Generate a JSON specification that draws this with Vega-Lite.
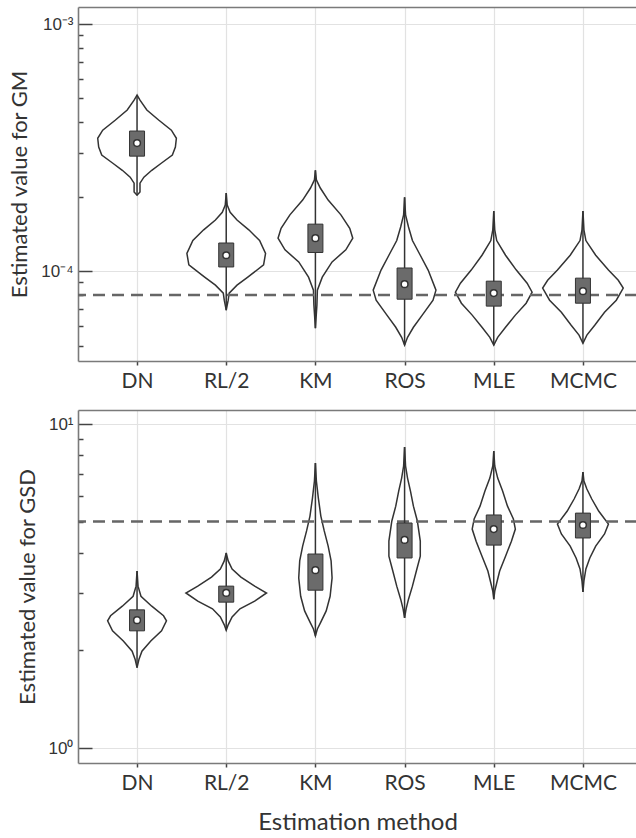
{
  "$schema": "https://vega.github.io/schema/vega-lite/v6.json",
  "padding": {"left": 8, "top": 7, "right": 0, "bottom": 2},
  "spacing": 19,
  "config": {
    "view": {"stroke": null},
    "font": "Lato",
    "axis": {
      "domainColor": "#7a7a7a",
      "domainWidth": 1.6,
      "tickColor": "#444444",
      "tickWidth": 1.5,
      "labelColor": "#333333",
      "titleColor": "#333333",
      "titleFontWeight": "normal",
      "gridColor": "#e2e2e2",
      "gridWidth": 1.2,
      "labelFlush": false,
      "labelOverlap": false,
      "labelBound": false
    }
  },
  "datasets": {
    "shapes": [
      {"stat": "GM", "method": "DN", "idx": 1, "value": 5.16e-4, "half": 0},
      {"stat": "GM", "method": "DN", "idx": 1, "value": 4.92e-4, "half": 0.033},
      {"stat": "GM", "method": "DN", "idx": 1, "value": 4.49e-4, "half": 0.110},
      {"stat": "GM", "method": "DN", "idx": 1, "value": 4.09e-4, "half": 0.242},
      {"stat": "GM", "method": "DN", "idx": 1, "value": 3.72e-4, "half": 0.385},
      {"stat": "GM", "method": "DN", "idx": 1, "value": 3.45e-4, "half": 0.441},
      {"stat": "GM", "method": "DN", "idx": 1, "value": 3.18e-4, "half": 0.430},
      {"stat": "GM", "method": "DN", "idx": 1, "value": 2.95e-4, "half": 0.396},
      {"stat": "GM", "method": "DN", "idx": 1, "value": 2.74e-4, "half": 0.275},
      {"stat": "GM", "method": "DN", "idx": 1, "value": 2.56e-4, "half": 0.165},
      {"stat": "GM", "method": "DN", "idx": 1, "value": 2.40e-4, "half": 0.077},
      {"stat": "GM", "method": "DN", "idx": 1, "value": 2.27e-4, "half": 0.033},
      {"stat": "GM", "method": "DN", "idx": 1, "value": 2.09e-4, "half": 0.033},
      {"stat": "GM", "method": "DN", "idx": 1, "value": 2.03e-4, "half": 0},

      {"stat": "GM", "method": "RL/2", "idx": 2, "value": 2.07e-4, "half": 0},
      {"stat": "GM", "method": "RL/2", "idx": 2, "value": 1.85e-4, "half": 0.011},
      {"stat": "GM", "method": "RL/2", "idx": 2, "value": 1.73e-4, "half": 0.044},
      {"stat": "GM", "method": "RL/2", "idx": 2, "value": 1.61e-4, "half": 0.121},
      {"stat": "GM", "method": "RL/2", "idx": 2, "value": 1.47e-4, "half": 0.253},
      {"stat": "GM", "method": "RL/2", "idx": 2, "value": 1.33e-4, "half": 0.374},
      {"stat": "GM", "method": "RL/2", "idx": 2, "value": 1.18e-4, "half": 0.441},
      {"stat": "GM", "method": "RL/2", "idx": 2, "value": 1.06e-4, "half": 0.419},
      {"stat": "GM", "method": "RL/2", "idx": 2, "value": 9.46e-5, "half": 0.242},
      {"stat": "GM", "method": "RL/2", "idx": 2, "value": 8.78e-5, "half": 0.121},
      {"stat": "GM", "method": "RL/2", "idx": 2, "value": 8.15e-5, "half": 0.033},
      {"stat": "GM", "method": "RL/2", "idx": 2, "value": 7.63e-5, "half": 0.022},
      {"stat": "GM", "method": "RL/2", "idx": 2, "value": 6.95e-5, "half": 0},

      {"stat": "GM", "method": "KM", "idx": 3, "value": 2.56e-4, "half": 0},
      {"stat": "GM", "method": "KM", "idx": 3, "value": 2.34e-4, "half": 0.011},
      {"stat": "GM", "method": "KM", "idx": 3, "value": 2.17e-4, "half": 0.055},
      {"stat": "GM", "method": "KM", "idx": 3, "value": 1.94e-4, "half": 0.143},
      {"stat": "GM", "method": "KM", "idx": 3, "value": 1.69e-4, "half": 0.286},
      {"stat": "GM", "method": "KM", "idx": 3, "value": 1.49e-4, "half": 0.385},
      {"stat": "GM", "method": "KM", "idx": 3, "value": 1.36e-4, "half": 0.419},
      {"stat": "GM", "method": "KM", "idx": 3, "value": 1.22e-4, "half": 0.341},
      {"stat": "GM", "method": "KM", "idx": 3, "value": 1.09e-4, "half": 0.187},
      {"stat": "GM", "method": "KM", "idx": 3, "value": 9.46e-5, "half": 0.077},
      {"stat": "GM", "method": "KM", "idx": 3, "value": 8.38e-5, "half": 0.022},
      {"stat": "GM", "method": "KM", "idx": 3, "value": 7.29e-5, "half": 0.017},
      {"stat": "GM", "method": "KM", "idx": 3, "value": 5.88e-5, "half": 0},

      {"stat": "GM", "method": "ROS", "idx": 4, "value": 1.99e-4, "half": 0},
      {"stat": "GM", "method": "ROS", "idx": 4, "value": 1.69e-4, "half": 0.011},
      {"stat": "GM", "method": "ROS", "idx": 4, "value": 1.51e-4, "half": 0.044},
      {"stat": "GM", "method": "ROS", "idx": 4, "value": 1.33e-4, "half": 0.088},
      {"stat": "GM", "method": "ROS", "idx": 4, "value": 1.16e-4, "half": 0.176},
      {"stat": "GM", "method": "ROS", "idx": 4, "value": 1.01e-4, "half": 0.264},
      {"stat": "GM", "method": "ROS", "idx": 4, "value": 8.38e-5, "half": 0.352},
      {"stat": "GM", "method": "ROS", "idx": 4, "value": 7.63e-5, "half": 0.319},
      {"stat": "GM", "method": "ROS", "idx": 4, "value": 6.64e-5, "half": 0.198},
      {"stat": "GM", "method": "ROS", "idx": 4, "value": 5.93e-5, "half": 0.099},
      {"stat": "GM", "method": "ROS", "idx": 4, "value": 5.40e-5, "half": 0.033},
      {"stat": "GM", "method": "ROS", "idx": 4, "value": 5.02e-5, "half": 0},

      {"stat": "GM", "method": "MLE", "idx": 5, "value": 1.75e-4, "half": 0},
      {"stat": "GM", "method": "MLE", "idx": 5, "value": 1.47e-4, "half": 0.011},
      {"stat": "GM", "method": "MLE", "idx": 5, "value": 1.33e-4, "half": 0.033},
      {"stat": "GM", "method": "MLE", "idx": 5, "value": 1.16e-4, "half": 0.132},
      {"stat": "GM", "method": "MLE", "idx": 5, "value": 1.01e-4, "half": 0.253},
      {"stat": "GM", "method": "MLE", "idx": 5, "value": 8.94e-5, "half": 0.374},
      {"stat": "GM", "method": "MLE", "idx": 5, "value": 8.22e-5, "half": 0.430},
      {"stat": "GM", "method": "MLE", "idx": 5, "value": 7.42e-5, "half": 0.363},
      {"stat": "GM", "method": "MLE", "idx": 5, "value": 6.64e-5, "half": 0.242},
      {"stat": "GM", "method": "MLE", "idx": 5, "value": 5.93e-5, "half": 0.132},
      {"stat": "GM", "method": "MLE", "idx": 5, "value": 5.40e-5, "half": 0.044},
      {"stat": "GM", "method": "MLE", "idx": 5, "value": 5.02e-5, "half": 0},

      {"stat": "GM", "method": "MCMC", "idx": 6, "value": 1.75e-4, "half": 0},
      {"stat": "GM", "method": "MCMC", "idx": 6, "value": 1.47e-4, "half": 0.011},
      {"stat": "GM", "method": "MCMC", "idx": 6, "value": 1.33e-4, "half": 0.033},
      {"stat": "GM", "method": "MCMC", "idx": 6, "value": 1.16e-4, "half": 0.143},
      {"stat": "GM", "method": "MCMC", "idx": 6, "value": 1.01e-4, "half": 0.286},
      {"stat": "GM", "method": "MCMC", "idx": 6, "value": 9.19e-5, "half": 0.396},
      {"stat": "GM", "method": "MCMC", "idx": 6, "value": 8.54e-5, "half": 0.452},
      {"stat": "GM", "method": "MCMC", "idx": 6, "value": 7.63e-5, "half": 0.374},
      {"stat": "GM", "method": "MCMC", "idx": 6, "value": 6.82e-5, "half": 0.242},
      {"stat": "GM", "method": "MCMC", "idx": 6, "value": 6.04e-5, "half": 0.132},
      {"stat": "GM", "method": "MCMC", "idx": 6, "value": 5.51e-5, "half": 0.044},
      {"stat": "GM", "method": "MCMC", "idx": 6, "value": 5.11e-5, "half": 0},

      {"stat": "GSD", "method": "DN", "idx": 1, "value": 3.52, "half": 0},
      {"stat": "GSD", "method": "DN", "idx": 1, "value": 3.16, "half": 0.011},
      {"stat": "GSD", "method": "DN", "idx": 1, "value": 2.94, "half": 0.044},
      {"stat": "GSD", "method": "DN", "idx": 1, "value": 2.74, "half": 0.165},
      {"stat": "GSD", "method": "DN", "idx": 1, "value": 2.56, "half": 0.297},
      {"stat": "GSD", "method": "DN", "idx": 1, "value": 2.47, "half": 0.330},
      {"stat": "GSD", "method": "DN", "idx": 1, "value": 2.30, "half": 0.275},
      {"stat": "GSD", "method": "DN", "idx": 1, "value": 2.14, "half": 0.154},
      {"stat": "GSD", "method": "DN", "idx": 1, "value": 1.99, "half": 0.055},
      {"stat": "GSD", "method": "DN", "idx": 1, "value": 1.88, "half": 0.022},
      {"stat": "GSD", "method": "DN", "idx": 1, "value": 1.77, "half": 0},

      {"stat": "GSD", "method": "RL/2", "idx": 2, "value": 4.00, "half": 0},
      {"stat": "GSD", "method": "RL/2", "idx": 2, "value": 3.78, "half": 0.022},
      {"stat": "GSD", "method": "RL/2", "idx": 2, "value": 3.57, "half": 0.066},
      {"stat": "GSD", "method": "RL/2", "idx": 2, "value": 3.37, "half": 0.165},
      {"stat": "GSD", "method": "RL/2", "idx": 2, "value": 3.16, "half": 0.319},
      {"stat": "GSD", "method": "RL/2", "idx": 2, "value": 3.01, "half": 0.452},
      {"stat": "GSD", "method": "RL/2", "idx": 2, "value": 2.84, "half": 0.319},
      {"stat": "GSD", "method": "RL/2", "idx": 2, "value": 2.69, "half": 0.154},
      {"stat": "GSD", "method": "RL/2", "idx": 2, "value": 2.54, "half": 0.066},
      {"stat": "GSD", "method": "RL/2", "idx": 2, "value": 2.40, "half": 0.022},
      {"stat": "GSD", "method": "RL/2", "idx": 2, "value": 2.31, "half": 0},

      {"stat": "GSD", "method": "KM", "idx": 3, "value": 7.58, "half": 0},
      {"stat": "GSD", "method": "KM", "idx": 3, "value": 6.67, "half": 0.011},
      {"stat": "GSD", "method": "KM", "idx": 3, "value": 5.91, "half": 0.033},
      {"stat": "GSD", "method": "KM", "idx": 3, "value": 5.20, "half": 0.061},
      {"stat": "GSD", "method": "KM", "idx": 3, "value": 4.68, "half": 0.099},
      {"stat": "GSD", "method": "KM", "idx": 3, "value": 4.20, "half": 0.143},
      {"stat": "GSD", "method": "KM", "idx": 3, "value": 3.78, "half": 0.176},
      {"stat": "GSD", "method": "KM", "idx": 3, "value": 3.35, "half": 0.187},
      {"stat": "GSD", "method": "KM", "idx": 3, "value": 2.94, "half": 0.165},
      {"stat": "GSD", "method": "KM", "idx": 3, "value": 2.65, "half": 0.121},
      {"stat": "GSD", "method": "KM", "idx": 3, "value": 2.43, "half": 0.055},
      {"stat": "GSD", "method": "KM", "idx": 3, "value": 2.33, "half": 0.022},
      {"stat": "GSD", "method": "KM", "idx": 3, "value": 2.22, "half": 0},

      {"stat": "GSD", "method": "ROS", "idx": 4, "value": 8.49, "half": 0},
      {"stat": "GSD", "method": "ROS", "idx": 4, "value": 7.42, "half": 0.011},
      {"stat": "GSD", "method": "ROS", "idx": 4, "value": 6.81, "half": 0.033},
      {"stat": "GSD", "method": "ROS", "idx": 4, "value": 6.21, "half": 0.066},
      {"stat": "GSD", "method": "ROS", "idx": 4, "value": 5.58, "half": 0.099},
      {"stat": "GSD", "method": "ROS", "idx": 4, "value": 5.02, "half": 0.143},
      {"stat": "GSD", "method": "ROS", "idx": 4, "value": 4.35, "half": 0.176},
      {"stat": "GSD", "method": "ROS", "idx": 4, "value": 3.91, "half": 0.176},
      {"stat": "GSD", "method": "ROS", "idx": 4, "value": 3.52, "half": 0.132},
      {"stat": "GSD", "method": "ROS", "idx": 4, "value": 3.16, "half": 0.088},
      {"stat": "GSD", "method": "ROS", "idx": 4, "value": 2.88, "half": 0.044},
      {"stat": "GSD", "method": "ROS", "idx": 4, "value": 2.69, "half": 0.017},
      {"stat": "GSD", "method": "ROS", "idx": 4, "value": 2.52, "half": 0},

      {"stat": "GSD", "method": "MLE", "idx": 5, "value": 8.25, "half": 0},
      {"stat": "GSD", "method": "MLE", "idx": 5, "value": 7.42, "half": 0.011},
      {"stat": "GSD", "method": "MLE", "idx": 5, "value": 6.81, "half": 0.044},
      {"stat": "GSD", "method": "MLE", "idx": 5, "value": 6.21, "half": 0.099},
      {"stat": "GSD", "method": "MLE", "idx": 5, "value": 5.58, "half": 0.154},
      {"stat": "GSD", "method": "MLE", "idx": 5, "value": 5.09, "half": 0.220},
      {"stat": "GSD", "method": "MLE", "idx": 5, "value": 4.74, "half": 0.242},
      {"stat": "GSD", "method": "MLE", "idx": 5, "value": 4.35, "half": 0.198},
      {"stat": "GSD", "method": "MLE", "idx": 5, "value": 3.91, "half": 0.132},
      {"stat": "GSD", "method": "MLE", "idx": 5, "value": 3.52, "half": 0.066},
      {"stat": "GSD", "method": "MLE", "idx": 5, "value": 3.23, "half": 0.033},
      {"stat": "GSD", "method": "MLE", "idx": 5, "value": 3.05, "half": 0.011},
      {"stat": "GSD", "method": "MLE", "idx": 5, "value": 2.88, "half": 0},

      {"stat": "GSD", "method": "MCMC", "idx": 6, "value": 7.11, "half": 0},
      {"stat": "GSD", "method": "MCMC", "idx": 6, "value": 6.67, "half": 0.011},
      {"stat": "GSD", "method": "MCMC", "idx": 6, "value": 6.30, "half": 0.044},
      {"stat": "GSD", "method": "MCMC", "idx": 6, "value": 5.87, "half": 0.099},
      {"stat": "GSD", "method": "MCMC", "idx": 6, "value": 5.39, "half": 0.176},
      {"stat": "GSD", "method": "MCMC", "idx": 6, "value": 4.91, "half": 0.286},
      {"stat": "GSD", "method": "MCMC", "idx": 6, "value": 4.58, "half": 0.242},
      {"stat": "GSD", "method": "MCMC", "idx": 6, "value": 4.20, "half": 0.143},
      {"stat": "GSD", "method": "MCMC", "idx": 6, "value": 3.86, "half": 0.077},
      {"stat": "GSD", "method": "MCMC", "idx": 6, "value": 3.57, "half": 0.033},
      {"stat": "GSD", "method": "MCMC", "idx": 6, "value": 3.28, "half": 0.011},
      {"stat": "GSD", "method": "MCMC", "idx": 6, "value": 3.03, "half": 0}
    ],
    "stats": [
      {"stat": "GM", "method": "DN", "idx": 1, "min": 2.03e-4, "q1": 2.92e-4, "median": 3.30e-4, "q3": 3.69e-4, "max": 5.16e-4},
      {"stat": "GM", "method": "RL/2", "idx": 2, "min": 6.95e-5, "q1": 1.04e-4, "median": 1.16e-4, "q3": 1.30e-4, "max": 2.07e-4},
      {"stat": "GM", "method": "KM", "idx": 3, "min": 5.88e-5, "q1": 1.19e-4, "median": 1.36e-4, "q3": 1.55e-4, "max": 2.56e-4},
      {"stat": "GM", "method": "ROS", "idx": 4, "min": 5.02e-5, "q1": 7.70e-5, "median": 8.86e-5, "q3": 1.03e-4, "max": 1.99e-4},
      {"stat": "GM", "method": "MLE", "idx": 5, "min": 5.02e-5, "q1": 7.22e-5, "median": 8.15e-5, "q3": 9.11e-5, "max": 1.75e-4},
      {"stat": "GM", "method": "MCMC", "idx": 6, "min": 5.11e-5, "q1": 7.42e-5, "median": 8.30e-5, "q3": 9.37e-5, "max": 1.75e-4},
      {"stat": "GSD", "method": "DN", "idx": 1, "min": 1.77, "q1": 2.30, "median": 2.48, "q3": 2.67, "max": 3.52},
      {"stat": "GSD", "method": "RL/2", "idx": 2, "min": 2.31, "q1": 2.82, "median": 3.01, "q3": 3.16, "max": 4.00},
      {"stat": "GSD", "method": "KM", "idx": 3, "min": 2.22, "q1": 3.07, "median": 3.54, "q3": 3.97, "max": 7.58},
      {"stat": "GSD", "method": "ROS", "idx": 4, "min": 2.52, "q1": 3.86, "median": 4.39, "q3": 4.95, "max": 8.49},
      {"stat": "GSD", "method": "MLE", "idx": 5, "min": 2.88, "q1": 4.23, "median": 4.74, "q3": 5.24, "max": 8.25},
      {"stat": "GSD", "method": "MCMC", "idx": 6, "min": 3.03, "q1": 4.45, "median": 4.88, "q3": 5.31, "max": 7.11}
    ],
    "truth": [
      {"stat": "GM", "true_value": 8e-5},
      {"stat": "GSD", "true_value": 5}
    ]
  },
  "vconcat": [
    {
      "width": 559,
      "height": 354,
      "layer": [
        {
          "data": {"name": "shapes"},
          "transform": [
            {"filter": "datum.stat === 'GM'"},
            {"calculate": "datum.idx - datum.half", "as": "x_left"},
            {"calculate": "datum.idx + datum.half", "as": "x_right"}
          ],
          "mark": {"type": "area", "orient": "horizontal", "fill": "white", "stroke": "#333333", "strokeWidth": 1.5},
          "encoding": {
            "detail": {"field": "method"},
            "y": {
              "field": "value", "type": "quantitative",
              "scale": {"type": "log", "domain": [4.33e-5, 1.172e-3], "nice": false},
              "axis": {
                "values": [0.001172, 0.001, 0.0009, 0.0008, 0.0007, 0.0006, 0.0005, 0.0004, 0.0003, 0.0002, 0.0001, 0.00009, 0.00008, 0.00007, 0.00006, 0.00005],
                "tickSize": -14,
                "tickDash": {"condition": {"test": "datum.value == 0.001 || datum.value == 0.0001", "value": [14, 0]}, "value": [5, 40]},
                "tickOpacity": {"condition": {"test": "datum.value == 0.001172", "value": 0}, "value": 1},
                "gridOpacity": {"condition": {"test": "datum.value == 0.001 || datum.value == 0.0001 || datum.value == 0.001172", "value": 1}, "value": 0},
                "gridColor": {"condition": {"test": "datum.value == 0.001172", "value": "#7a7a7a"}, "value": "#e2e2e2"},
                "gridWidth": {"condition": {"test": "datum.value == 0.001172", "value": 1.6}, "value": 1.2},
                "labelFontSize": {"condition": {"test": "datum.value == 0.001172", "value": 0}, "value": 17},
                "labelExpr": "datum.value == 0.001 ? '10⁻³' : (datum.value == 0.0001 ? '10⁻⁴' : '')",
                "labelPadding": 19,
                "labelFont": "Liberation Sans",
                "title": "Estimated value for GM",
                "titleFontSize": 22,
                "titlePadding": 9
              }
            },
            "x": {
              "field": "x_left", "type": "quantitative",
              "scale": {"domain": [0.394, 6.55], "nice": false, "zero": false},
              "axis": {
                "values": [1, 2, 3, 4, 5, 6],
                "labelExpr": "['DN', 'RL/2', 'KM', 'ROS', 'MLE', 'MCMC'][datum.value - 1]",
                "tickSize": 4,
                "labelPadding": 5,
                "labelFontSize": 21,
                "title": null
              }
            },
            "x2": {"field": "x_right"}
          }
        },
        {
          "data": {"name": "truth"},
          "transform": [{"filter": "datum.stat === 'GM'"}],
          "mark": {"type": "rule", "stroke": "#666666", "strokeWidth": 2.5, "strokeDash": [12, 7]},
          "encoding": {
            "y": {"field": "true_value", "type": "quantitative"}
          }
        },
        {
          "data": {"name": "stats"},
          "transform": [{"filter": "datum.stat === 'GM'"}],
          "mark": {"type": "rule", "stroke": "#333333", "strokeWidth": 1.5},
          "encoding": {
            "x": {"field": "idx", "type": "quantitative"},
            "y": {"field": "min", "type": "quantitative"},
            "y2": {"field": "max"}
          }
        },
        {
          "data": {"name": "stats"},
          "transform": [{"filter": "datum.stat === 'GM'"}],
          "mark": {"type": "bar", "width": 15, "fill": "#6b6b6b", "stroke": "#333333", "strokeWidth": 1},
          "encoding": {
            "x": {"field": "idx", "type": "quantitative"},
            "y": {"field": "q1", "type": "quantitative"},
            "y2": {"field": "q3"}
          }
        },
        {
          "data": {"name": "stats"},
          "transform": [{"filter": "datum.stat === 'GM'"}],
          "mark": {"type": "point", "filled": true, "fill": "white", "stroke": "#333333", "strokeWidth": 1.5, "size": 45, "opacity": 1},
          "encoding": {
            "x": {"field": "idx", "type": "quantitative"},
            "y": {"field": "median", "type": "quantitative"}
          }
        }
      ]
    },
    {
      "width": 559,
      "height": 353,
      "layer": [
        {
          "data": {"name": "shapes"},
          "transform": [
            {"filter": "datum.stat === 'GSD'"},
            {"calculate": "datum.idx - datum.half", "as": "x_left"},
            {"calculate": "datum.idx + datum.half", "as": "x_right"}
          ],
          "mark": {"type": "area", "orient": "horizontal", "fill": "white", "stroke": "#333333", "strokeWidth": 1.5},
          "encoding": {
            "detail": {"field": "method"},
            "y": {
              "field": "value", "type": "quantitative",
              "scale": {"type": "log", "domain": [0.899, 11.05], "nice": false},
              "axis": {
                "values": [11.05, 10, 9, 8, 7, 6, 5, 4, 3, 2, 1],
                "tickSize": -14,
                "tickDash": {"condition": {"test": "datum.value == 10 || datum.value == 1", "value": [14, 0]}, "value": [5, 40]},
                "tickOpacity": {"condition": {"test": "datum.value == 11.05", "value": 0}, "value": 1},
                "gridOpacity": {"condition": {"test": "datum.value == 10 || datum.value == 1 || datum.value == 11.05", "value": 1}, "value": 0},
                "gridColor": {"condition": {"test": "datum.value == 11.05", "value": "#7a7a7a"}, "value": "#e2e2e2"},
                "gridWidth": {"condition": {"test": "datum.value == 11.05", "value": 1.6}, "value": 1.2},
                "labelFontSize": {"condition": {"test": "datum.value == 11.05", "value": 0}, "value": 17},
                "labelExpr": "datum.value == 10 ? '10¹' : (datum.value == 1 ? '10⁰' : '')",
                "labelPadding": 19,
                "labelFont": "Liberation Sans",
                "title": "Estimated value for GSD",
                "titleFontSize": 22,
                "titlePadding": 9
              }
            },
            "x": {
              "field": "x_left", "type": "quantitative",
              "scale": {"domain": [0.394, 6.55], "nice": false, "zero": false},
              "axis": {
                "values": [1, 2, 3, 4, 5, 6],
                "labelExpr": "['DN', 'RL/2', 'KM', 'ROS', 'MLE', 'MCMC'][datum.value - 1]",
                "tickSize": 4,
                "labelPadding": 5,
                "labelFontSize": 21,
                "title": "Estimation method",
                "titleFontSize": 24,
                "titlePadding": 17
              }
            },
            "x2": {"field": "x_right"}
          }
        },
        {
          "data": {"name": "truth"},
          "transform": [{"filter": "datum.stat === 'GSD'"}],
          "mark": {"type": "rule", "stroke": "#666666", "strokeWidth": 2.5, "strokeDash": [12, 7]},
          "encoding": {
            "y": {"field": "true_value", "type": "quantitative"}
          }
        },
        {
          "data": {"name": "stats"},
          "transform": [{"filter": "datum.stat === 'GSD'"}],
          "mark": {"type": "rule", "stroke": "#333333", "strokeWidth": 1.5},
          "encoding": {
            "x": {"field": "idx", "type": "quantitative"},
            "y": {"field": "min", "type": "quantitative"},
            "y2": {"field": "max"}
          }
        },
        {
          "data": {"name": "stats"},
          "transform": [{"filter": "datum.stat === 'GSD'"}],
          "mark": {"type": "bar", "width": 15, "fill": "#6b6b6b", "stroke": "#333333", "strokeWidth": 1},
          "encoding": {
            "x": {"field": "idx", "type": "quantitative"},
            "y": {"field": "q1", "type": "quantitative"},
            "y2": {"field": "q3"}
          }
        },
        {
          "data": {"name": "stats"},
          "transform": [{"filter": "datum.stat === 'GSD'"}],
          "mark": {"type": "point", "filled": true, "fill": "white", "stroke": "#333333", "strokeWidth": 1.5, "size": 45, "opacity": 1},
          "encoding": {
            "x": {"field": "idx", "type": "quantitative"},
            "y": {"field": "median", "type": "quantitative"}
          }
        }
      ]
    }
  ]
}
